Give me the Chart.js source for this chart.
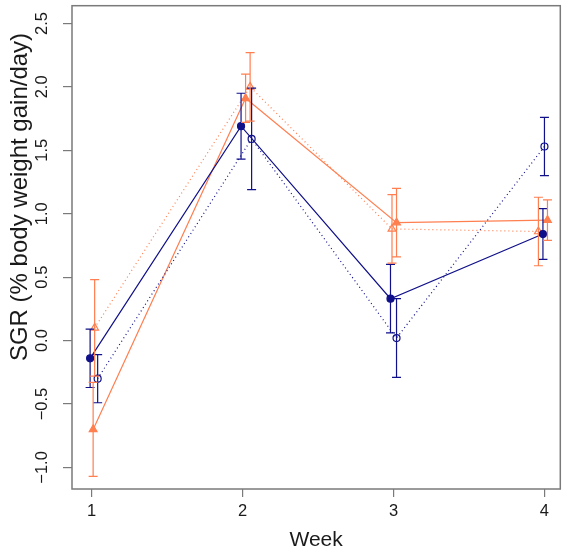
<!DOCTYPE html>
<html>
<head>
<meta charset="utf-8">
<script src="https://cdn.jsdelivr.net/npm/chart.js@4.4.1/dist/chart.umd.min.js"></script>
<style>
  html, body { margin: 0; padding: 0; background: #fff; }
</style>
</head>
<body>
<canvas id="chart" width="566" height="556"></canvas>
<script>
// tick labels
const xTicks = [1, 2, 3, 4];
const yTicks = [-1.0, -0.5, 0.0, 0.5, 1.0, 1.5, 2.0, 2.5];

// week positions (points are jittered a little around each week)
const xNavyFilled = [0.99, 1.99, 2.98, 3.99];
const xNavyOpen = [1.04, 2.06, 3.02, 4.00];
const xCoralFilled = [1.01, 2.02, 3.02, 4.02];
const xCoralOpen = [1.02, 2.05, 2.99, 3.96];

// mean SGR
const navyFilled = [-0.14, 1.69, 0.33, 0.84];
const navyOpen = [-0.30, 1.59, 0.02, 1.53];
const coralFilled = [-0.70, 1.91, 0.93, 0.95];
const coralOpen = [0.10, 2.00, 0.88, 0.86];

// error (half length of the bars)
const navyFilledErr = [0.23, 0.26, 0.27, 0.20];
const navyOpenErr = [0.19, 0.40, 0.31, 0.23];
const coralFilledErr = [0.37, 0.19, 0.27, 0.16];
const coralOpenErr = [0.38, 0.27, 0.27, 0.27];

const NAVY = '#10108a';
const CORAL = '#ff7f50';
const FONT = 'Liberation Sans, Arial, Helvetica, sans-serif';

const pts = (xs, ys) => xs.map((x, i) => ({ x: x, y: ys[i] }));

// vertical error bars with caps
const errorBars = {
  id: 'errorBars',
  afterDatasetsDraw(chart) {
    const { ctx, scales: { x, y } } = chart;
    ctx.save();
    ctx.lineWidth = 1.2;
    chart.data.datasets.forEach(ds => {
      ctx.strokeStyle = ds.borderColor;
      ds.data.forEach((p, i) => {
        const px = x.getPixelForValue(p.x);
        const top = y.getPixelForValue(p.y + ds.err[i]);
        const bot = y.getPixelForValue(p.y - ds.err[i]);
        ctx.beginPath();
        ctx.moveTo(px, top); ctx.lineTo(px, bot);
        ctx.moveTo(px - 4.5, top); ctx.lineTo(px + 4.5, top);
        ctx.moveTo(px - 4.5, bot); ctx.lineTo(px + 4.5, bot);
        ctx.stroke();
      });
    });
    ctx.restore();
  }
};

// box, rotated y labels and y title (R style)
const frame = {
  id: 'frame',
  afterDraw(chart) {
    const { ctx, chartArea: a, scales: { y } } = chart;
    ctx.save();
    ctx.strokeStyle = '#7a7a7a';
    ctx.lineWidth = 1.5;
    ctx.strokeRect(a.left, a.top, a.right - a.left, a.bottom - a.top);

    ctx.fillStyle = '#1a1a1a';
    ctx.textAlign = 'center';
    ctx.textBaseline = 'middle';
    ctx.font = '16.5px ' + FONT;
    yTicks.forEach(v => {
      ctx.save();
      ctx.translate(42, y.getPixelForValue(v));
      ctx.rotate(-Math.PI / 2);
      ctx.fillText(v.toFixed(1).replace('-', '\u2212'), 0, 0);
      ctx.restore();
    });

    ctx.font = '24px ' + FONT;
    ctx.translate(20, 197);
    ctx.rotate(-Math.PI / 2);
    ctx.fillText('SGR (% body weight gain/day)', 0, 0);
    ctx.restore();
  }
};

new Chart(document.getElementById('chart').getContext('2d'), {
  type: 'line',
  data: {
    datasets: [
      {
        data: pts(xNavyFilled, navyFilled), err: navyFilledErr,
        borderColor: NAVY, backgroundColor: NAVY, borderWidth: 1.2,
        pointStyle: 'circle', pointRadius: 3.5, pointBackgroundColor: NAVY
      },
      {
        data: pts(xNavyOpen, navyOpen), err: navyOpenErr,
        borderColor: NAVY, backgroundColor: '#fff', borderWidth: 1.2, borderDash: [1, 3],
        pointStyle: 'circle', pointRadius: 3.5, pointBorderWidth: 1.2, pointBackgroundColor: 'rgba(0,0,0,0)'
      },
      {
        data: pts(xCoralFilled, coralFilled), err: coralFilledErr,
        borderColor: CORAL, backgroundColor: CORAL, borderWidth: 1.2,
        pointStyle: 'triangle', pointRadius: 4.5, pointBackgroundColor: CORAL
      },
      {
        data: pts(xCoralOpen, coralOpen), err: coralOpenErr,
        borderColor: CORAL, backgroundColor: '#fff', borderWidth: 1.2, borderDash: [1, 3],
        pointStyle: 'triangle', pointRadius: 4.5, pointBorderWidth: 1.2, pointBackgroundColor: 'rgba(0,0,0,0)'
      }
    ]
  },
  options: {
    responsive: false,
    animation: false,
    layout: { padding: { top: 2, right: 3, left: 0, bottom: 0 } },
    plugins: { legend: { display: false }, tooltip: { enabled: false } },
    elements: { line: { tension: 0 } },
    scales: {
      x: {
        type: 'linear',
        min: 0.87,
        max: 4.105,
        afterBuildTicks: s => { s.ticks = xTicks.map(v => ({ value: v })); },
        afterFit: s => { s.height = 67; },
        ticks: { color: '#1a1a1a', font: { family: FONT, size: 16.5 }, padding: 5 },
        grid: { drawOnChartArea: false, tickLength: 8, color: '#7a7a7a', lineWidth: 1.2 },
        border: { display: false },
        title: { display: true, text: 'Week', color: '#1a1a1a', font: { family: FONT, size: 21 }, padding: { top: 0, bottom: 3 } }
      },
      y: {
        min: -1.17,
        max: 2.64,
        afterBuildTicks: s => { s.ticks = yTicks.map(v => ({ value: v })); },
        afterFit: s => { s.width = 72; },
        ticks: { display: false },
        grid: { drawOnChartArea: false, tickLength: 9, color: '#7a7a7a', lineWidth: 1.2 },
        border: { display: false }
      }
    }
  },
  plugins: [errorBars, frame]
});
</script>
</body>
</html>
